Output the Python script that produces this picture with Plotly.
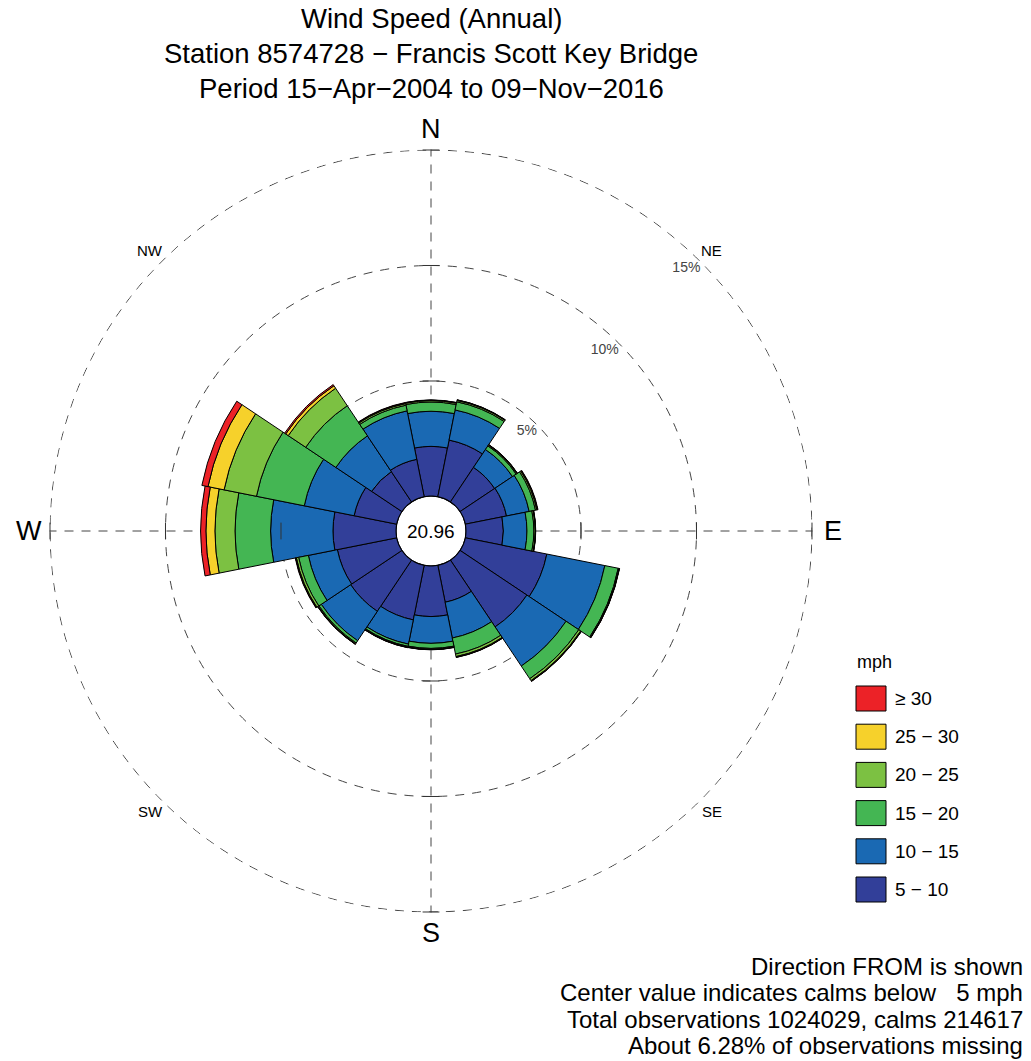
import math
import plotly.graph_objects as go

# ---- data -------------------------------------------------------------
directions = ["N", "NNE", "NE", "ENE", "E", "ESE", "SE", "SSE",
              "S", "SSW", "SW", "WSW", "W", "WNW", "NW", "NNW"]
dir_angles = [0, 22.5, 45, 67.5, 90, 112.5, 135, 157.5,
              180, 202.5, 225, 247.5, 270, 292.5, 315, 337.5]

speed_bins = ["5 − 10", "10 − 15", "15 − 20", "20 − 25", "25 − 30", "≥ 30"]
bin_colors = ["#323F99", "#1A69B3", "#44B653", "#7CC142", "#F6D12B", "#EC2227"]

# percent of all observations, per direction (N ... NNW)
pct_5_10 = [2.17, 2.52, 1.82, 1.84, 1.64, 3.62, 3.50, 1.65,
            2.21, 2.43, 2.69, 2.64, 2.75, 1.90, 1.60, 1.67]
pct_10_15 = [1.52, 1.33, 0.93, 1.00, 1.02, 2.56, 2.04, 1.58,
             1.16, 1.07, 1.53, 1.28, 2.70, 2.20, 1.86, 2.14]
pct_15_20 = [0.40, 0.36, 0.19, 0.28, 0.30, 0.59, 0.66, 0.71,
             0.22, 0.10, 0.12, 0.43, 1.54, 2.11, 1.57, 0.25]
pct_20_25 = [0.06, 0.06, 0.04, 0.06, 0.06, 0.04, 0.10, 0.11,
             0.04, 0.03, 0.04, 0.10, 0.87, 1.43, 0.91, 0.07]
pct_25_30 = [0.02, 0.02, 0.02, 0.03, 0.01, 0.01, 0.03, 0.03,
             0.01, 0.02, 0.02, 0.03, 0.39, 0.71, 0.13, 0.03]
pct_30_up = [0.01, 0.01, 0.01, 0.02, 0.01, 0.01, 0.01, 0.01,
             0.01, 0.01, 0.01, 0.02, 0.23, 0.27, 0.06, 0.02]
series = [pct_5_10, pct_10_15, pct_15_20, pct_20_25, pct_25_30, pct_30_up]

calm_pct = "20.96"
ring_vals = [5, 10, 15]
ring_text = ["5%", "10%", "15%"]
cardinal_lbl = ["N", "E", "S", "W"]
cardinal_ang = [0, 90, 180, 270]
diag_lbl = ["NE", "SE", "SW", "NW"]
diag_ang = [45, 135, 225, 315]

title_lines = ["Wind Speed (Annual)",
               "Station 8574728 − Francis Scott Key Bridge",
               "Period 15−Apr−2004 to 09−Nov−2016"]
note_lines = ["Direction FROM is shown",
              "Center value indicates calms below   5 mph",
              "Total observations 1024029, calms 214617",
              "About 6.28% of observations missing"]

# ---- layout geometry ----------------------------------------------------
W, H = 1031, 1061
FONT = "Liberation Sans, Arial, Helvetica, sans-serif"
CX, CY = 431, 531          # rose centre (px)
HOLE_PX = 34.5             # radius of calm circle
PX_PER_PCT = 23.1
R_MAX = 15.02
R_OUT = HOLE_PX + R_MAX * PX_PER_PCT
DASH = "9px,8px"


def px(x):
    return x / W


def py(y):
    return 1 - y / H


def compass_xy(angle_deg, radius_px):
    a = math.radians(angle_deg)
    return px(CX + radius_px * math.sin(a)), py(CY - radius_px * math.cos(a))


fig = go.Figure()

# outermost (15 %) ring, drawn as a dashed circle
ring_theta = list(range(0, 361, 2))
fig.add_trace(go.Scatterpolar(
    r=[ring_vals[-1]] * len(ring_theta), theta=ring_theta, mode="lines",
    line=dict(color="#444", width=1, dash=DASH), hoverinfo="skip", showlegend=False))

# small cross ticks where rings meet the compass axes
fig.add_trace(go.Scatterpolar(
    r=ring_vals * 2, theta=[0] * 3 + [180] * 3, mode="markers",
    marker=dict(symbol="line-ew", size=12, line=dict(color="#333", width=1)),
    hoverinfo="skip", showlegend=False))
fig.add_trace(go.Scatterpolar(
    r=ring_vals * 2, theta=[90] * 3 + [270] * 3, mode="markers",
    marker=dict(symbol="line-ns", size=12, line=dict(color="#333", width=1)),
    hoverinfo="skip", showlegend=False))

# stacked wind-speed wedges
for name, vals, col in zip(speed_bins, series, bin_colors):
    fig.add_trace(go.Barpolar(
        r=vals, theta=dir_angles, width=22.5, name=name,
        marker=dict(color=col, line=dict(color="black", width=1)),
        showlegend=False))

# outline of the calm circle (radial value 0 sits on the hole edge)
circle_theta = list(range(0, 361, 3))
fig.add_trace(go.Scatterpolar(
    r=[0] * len(circle_theta), theta=circle_theta, mode="lines",
    line=dict(color="black", width=2), hoverinfo="skip", showlegend=False))

# ring percentage labels
fig.add_trace(go.Scatterpolar(
    r=ring_vals, theta=[45] * 3, mode="text", text=ring_text,
    textposition="bottom left", textfont=dict(family=FONT, size=14, color="#444"),
    cliponaxis=False, hoverinfo="skip", showlegend=False))

grid = dict(gridcolor="#444", gridwidth=1, griddash=DASH)
fig.update_layout(
    width=W, height=H,
    margin=dict(l=0, r=0, t=0, b=0),
    paper_bgcolor="white",
    font=dict(family=FONT, color="black"),
    polar=dict(
        domain=dict(x=[px(CX - R_OUT), px(CX + R_OUT)],
                    y=[py(CY + R_OUT), py(CY - R_OUT)]),
        hole=HOLE_PX / R_OUT,
        bgcolor="white",
        barmode="stack",
        radialaxis=dict(range=[0, R_MAX], tickvals=ring_vals, showticklabels=False,
                        ticks="", showline=False, **grid),
        angularaxis=dict(rotation=90, direction="clockwise", tickvals=cardinal_ang,
                         showticklabels=False, ticks="", showline=False, **grid),
    ),
)

ann = []
# title block
for i, line in enumerate(title_lines):
    ann.append(dict(x=px(CX), y=py(19 + 34.5 * i), xref="paper", yref="paper",
                    text=line, showarrow=False, xanchor="center", yanchor="middle",
                    font=dict(size=27.5, family=FONT)))
# compass labels just outside the 15 % ring
for lbl, ang in zip(cardinal_lbl, cardinal_ang):
    x, y = compass_xy(ang, 402)
    ann.append(dict(x=x, y=y, xref="paper", yref="paper", text=lbl,
                    showarrow=False, xanchor="center", yanchor="middle",
                    font=dict(size=27, family=FONT)))
for lbl, ang in zip(diag_lbl, diag_ang):
    x, y = compass_xy(ang, 397)
    ann.append(dict(x=x, y=y, xref="paper", yref="paper", text=lbl,
                    showarrow=False, xanchor="center", yanchor="middle",
                    font=dict(size=15, family=FONT)))
# calm value
ann.append(dict(x=px(CX), y=py(CY), xref="paper", yref="paper", text=calm_pct,
                showarrow=False, xanchor="center", yanchor="middle",
                font=dict(size=19, family=FONT)))
# notes, bottom right
for i, line in enumerate(note_lines):
    ann.append(dict(x=px(1025), y=py(966 + 26.5 * i), xref="paper", yref="paper",
                    text=line, showarrow=False, xanchor="right", yanchor="middle",
                    font=dict(size=24, family=FONT)))

# legend: swatches + labels, highest speed on top
shapes = []
ann.append(dict(x=px(855), y=py(662), xref="paper", yref="paper", text="mph",
                showarrow=False, xanchor="left", yanchor="middle",
                font=dict(size=18, family=FONT)))
for k, (name, col) in enumerate(zip(speed_bins[::-1], bin_colors[::-1])):
    top = 686 + 38.2 * k
    shapes.append(dict(type="rect", xref="paper", yref="paper",
                       x0=px(856), x1=px(886), y0=py(top + 25), y1=py(top),
                       fillcolor=col, line=dict(color="black", width=1)))
    ann.append(dict(x=px(893), y=py(top + 12.5), xref="paper", yref="paper",
                    text=name, showarrow=False, xanchor="left", yanchor="middle",
                    font=dict(size=19, family=FONT)))

fig.update_layout(annotations=ann, shapes=shapes)
fig.write_html("out.html")
